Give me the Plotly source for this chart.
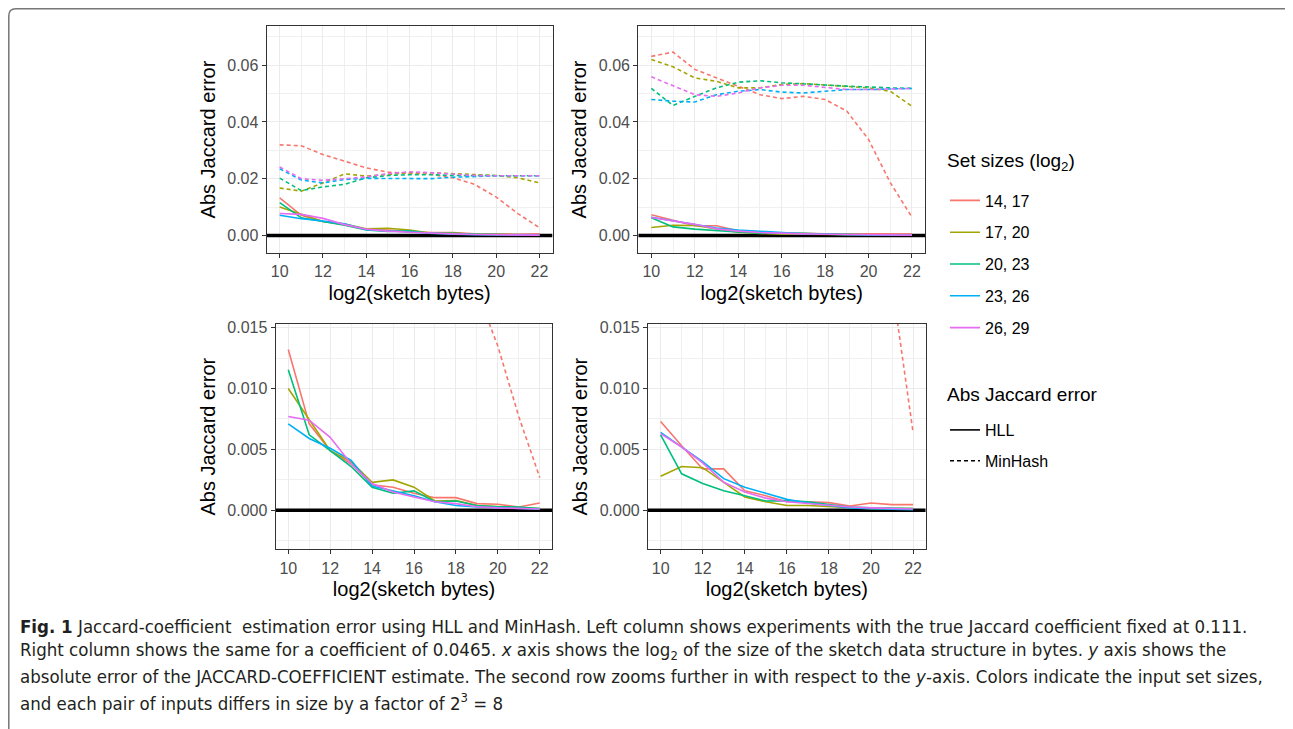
import plotly.graph_objects as go

# the page body adds an 8px margin, so the figure is drawn 8px smaller and
# every reference pixel position is shifted by OFF
OFF = 8
W, H = 1293 - OFF, 729 - OFF

# ---------------- data ----------------
sketch_log2_bytes = list(range(10, 23))
set_sizes = ["14, 17", "17, 20", "20, 23", "23, 26", "26, 29"]
colors = ["#F8766D", "#A3A500", "#00BF7D", "#00B0F6", "#E76BF3"]

# Left column: true Jaccard coefficient 0.111
hll_j111_14_17 = [0.0132, 0.0071, 0.0049, 0.0038, 0.0021, 0.0019, 0.0014, 0.00104, 0.00104, 0.00055, 0.0005, 0.00027, 0.0006]
hll_j111_17_20 = [0.0100, 0.0075, 0.0049, 0.0040, 0.0023, 0.0025, 0.0019, 0.00077, 0.0008, 0.0004, 0.00027, 0.0002, 0.00014]
hll_j111_20_23 = [0.01155, 0.0062, 0.0049, 0.0036, 0.0019, 0.0014, 0.0016, 0.0007, 0.00077, 0.0004, 0.0003, 0.00027, 0.00014]
hll_j111_23_26 = [0.0071, 0.0059, 0.0051, 0.0041, 0.0020, 0.0016, 0.0012, 0.0007, 0.0004, 0.00027, 0.0002, 0.00014, 0.0001]
hll_j111_26_29 = [0.0077, 0.0074, 0.0060, 0.0038, 0.0022, 0.0015, 0.0011, 0.0007, 0.00055, 0.0003, 0.0002, 0.00014, 0.00011]

mh_j111_14_17 = [0.0319, 0.0316, 0.0285, 0.0262, 0.0238, 0.0223, 0.0220, 0.0215, 0.0203, 0.0180, 0.0135, 0.0077, 0.0027]
mh_j111_17_20 = [0.0167, 0.0156, 0.0185, 0.0217, 0.0209, 0.0214, 0.0221, 0.0221, 0.0218, 0.0214, 0.0211, 0.0203, 0.0185]
mh_j111_20_23 = [0.0202, 0.0158, 0.0171, 0.0180, 0.0203, 0.0211, 0.0214, 0.0214, 0.0211, 0.0211, 0.0211, 0.0210, 0.0210]
mh_j111_23_26 = [0.0235, 0.0195, 0.0185, 0.0197, 0.0201, 0.0200, 0.0200, 0.0200, 0.0205, 0.0208, 0.0210, 0.0210, 0.0210]
mh_j111_26_29 = [0.0241, 0.0200, 0.0194, 0.0200, 0.0206, 0.0218, 0.0224, 0.0221, 0.0217, 0.0211, 0.0210, 0.0210, 0.0210]

# Right column: true Jaccard coefficient 0.0465
hll_j0465_14_17 = [0.0073, 0.0053, 0.0034, 0.0034, 0.0016, 0.0012, 0.0007, 0.0007, 0.00063, 0.00036, 0.0006, 0.00047, 0.00047]
hll_j0465_17_20 = [0.0028, 0.0036, 0.0035, 0.0023, 0.0011, 0.0007, 0.0004, 0.0004, 0.00033, 0.0002, 0.00014, 0.00014, 0.00014]
hll_j0465_20_23 = [0.0062, 0.0030, 0.0022, 0.0016, 0.0012, 0.00077, 0.0008, 0.0007, 0.00047, 0.00027, 0.0002, 0.00014, 0.00014]
hll_j0465_23_26 = [0.0064, 0.0052, 0.0040, 0.0026, 0.0019, 0.0014, 0.0009, 0.0006, 0.0004, 0.0002, 0.00014, 0.0001, 0.00005]
hll_j0465_26_29 = [0.0063, 0.0052, 0.0039, 0.0023, 0.0015, 0.0010, 0.0007, 0.00055, 0.0004, 0.00027, 0.0002, 0.00014, 0.00011]

mh_j0465_14_17 = [0.0631, 0.0646, 0.0585, 0.0555, 0.0526, 0.0496, 0.0482, 0.0490, 0.0479, 0.0438, 0.0338, 0.0186, 0.0064]
mh_j0465_17_20 = [0.0620, 0.0594, 0.0555, 0.0543, 0.0520, 0.0520, 0.0532, 0.0535, 0.0530, 0.0526, 0.0520, 0.0508, 0.0455]
mh_j0465_20_23 = [0.0518, 0.0458, 0.0490, 0.0520, 0.0540, 0.0545, 0.0538, 0.0535, 0.0530, 0.0526, 0.0522, 0.0520, 0.0518]
mh_j0465_23_26 = [0.0479, 0.0473, 0.0470, 0.0496, 0.0508, 0.0514, 0.0505, 0.0502, 0.0508, 0.0514, 0.0514, 0.0517, 0.0518]
mh_j0465_26_29 = [0.0559, 0.0528, 0.0496, 0.0490, 0.0502, 0.0520, 0.0529, 0.0529, 0.0522, 0.0514, 0.0514, 0.0516, 0.0518]

hll_left = [hll_j111_14_17, hll_j111_17_20, hll_j111_20_23, hll_j111_23_26, hll_j111_26_29]
mh_left = [mh_j111_14_17, mh_j111_17_20, mh_j111_20_23, mh_j111_23_26, mh_j111_26_29]
hll_right = [hll_j0465_14_17, hll_j0465_17_20, hll_j0465_20_23, hll_j0465_23_26, hll_j0465_26_29]
mh_right = [mh_j0465_14_17, mh_j0465_17_20, mh_j0465_20_23, mh_j0465_23_26, mh_j0465_26_29]

caption_lines = [
    "<b>Fig. 1</b> Jaccard-coefficient  estimation error using HLL and MinHash. Left column shows experiments with the true Jaccard coefficient fixed at 0.111.",
    "Right column shows the same for a coefficient of 0.0465. <i>x</i> axis shows the log<sub>2</sub> of the size of the sketch data structure in bytes. <i>y</i> axis shows the",
    "absolute error of the JACCARD-COEFFICIENT estimate. The second row zooms further in with respect to the <i>y</i>-axis. Colors indicate the input set sizes,",
    "and each pair of inputs differs in size by a factor of 2<sup>3</sup> = 8",
]

X_RANGE = [9.4, 22.6]
Y_RANGE_TOP = [-0.0062, 0.0738]
Y_RANGE_ZOOM = [-0.0032, 0.0153]

# ---------------- layout helpers ----------------
FONT = "Liberation Sans"


def px(xp):
    return (xp - OFF) / W


def py(yp):
    return 1 - (yp - OFF) / H


def xdom(a, b):
    return [px(a), px(b)]


def ydom(top, bottom):
    return [py(bottom), py(top)]


# panels: (axis suffix, x pixel range, y pixel range, y range, y dtick, y fmt)
panels = [
    ("", (266.7, 552.5), (26, 253), Y_RANGE_TOP, 0.02, ".2f"),
    ("2", (638.3, 925.0), (26, 253), Y_RANGE_TOP, 0.02, ".2f"),
    ("3", (275.7, 552.3), (324, 549.3), Y_RANGE_ZOOM, 0.005, ".3f"),
    ("4", (648.0, 925.7), (324, 549.3), Y_RANGE_ZOOM, 0.005, ".3f"),
]

fig = go.Figure()

panel_data = [
    (hll_left, mh_left, ""),
    (hll_right, mh_right, "2"),
    (hll_left, mh_left, "3"),
    (hll_right, mh_right, "4"),
]

for pi, (hll, mh, s) in enumerate(panel_data):
    xa = "x" + s
    ya = "y" + s
    for i in range(5):
        fig.add_trace(go.Scatter(
            x=sketch_log2_bytes, y=hll[i], mode="lines", xaxis=xa, yaxis=ya,
            line=dict(color=colors[i], width=1.6),
            name=set_sizes[i], legendgroup=set_sizes[i], legend="legend",
            showlegend=(pi == 0), hoverinfo="skip",
        ))
    for i in range(5):
        fig.add_trace(go.Scatter(
            x=sketch_log2_bytes, y=mh[i], mode="lines", xaxis=xa, yaxis=ya,
            line=dict(color=colors[i], width=1.6, dash="4px,3px"),
            name=set_sizes[i], legendgroup=set_sizes[i], showlegend=False,
            hoverinfo="skip",
        ))

# linetype legend entries
fig.add_trace(go.Scatter(x=[None], y=[None], mode="lines", name="HLL",
                         line=dict(color="black", width=1.6), legend="legend2",
                         legendgroup="HLL"))
fig.add_trace(go.Scatter(x=[None], y=[None], mode="lines", name="MinHash",
                         line=dict(color="black", width=1.6, dash="4px,3px"),
                         legend="legend2", legendgroup="MinHash"))

axis_common = dict(
    showline=True, linecolor="#333333", linewidth=1.2, mirror=True,
    ticks="outside", ticklen=4, tickcolor="#333333", tickwidth=1,
    showgrid=True, gridcolor="#EBEBEB", gridwidth=1.1, zeroline=False,
    tickfont=dict(family=FONT, size=16, color="#4D4D4D"),
)

layout_axes = {}
for suffix, (xl, xr), (yt, yb), yr, ydt, yfmt in panels:
    layout_axes["xaxis" + suffix] = dict(
        axis_common, domain=xdom(xl, xr), anchor="y" + suffix,
        range=X_RANGE, tick0=10, dtick=2,
        minor=dict(dtick=1, tick0=10, showgrid=True, gridcolor="#F0F0F0", gridwidth=0.6, ticks=""),
        title=dict(text="log2(sketch bytes)", font=dict(family=FONT, size=20, color="black"), standoff=6),
    )
    layout_axes["yaxis" + suffix] = dict(
        axis_common, domain=ydom(yt, yb), anchor="x" + suffix,
        range=yr, tick0=0, dtick=ydt, tickformat=yfmt,
        minor=dict(dtick=ydt / 2, tick0=0, showgrid=True, gridcolor="#F0F0F0", gridwidth=0.6, ticks=""),
        title=dict(text="Abs Jaccard error", font=dict(family=FONT, size=20, color="black"), standoff=6),
    )

shapes = []
for suffix, *_ in panels:
    # horizontal reference line at zero error, spanning the panel
    shapes.append(dict(type="line", xref="x" + suffix, yref="y" + suffix,
                       x0=X_RANGE[0], x1=X_RANGE[1], y0=0, y1=0,
                       line=dict(color="black", width=3.5), layer="between"))

# figure frame with rounded corner (reference: x=8.5, y=8.5)
fx, fy, r = px(8.8), py(8.8), 7
shapes.append(dict(
    type="path", xref="paper", yref="paper",
    path=(f"M 1.01,{fy} L {fx + r / W},{fy} "
          f"Q {fx},{fy} {fx},{fy - r / H} L {fx},-0.01"),
    line=dict(color="#777777", width=1.5),
))

annotations = []
for k, line in enumerate(caption_lines):
    annotations.append(dict(
        text=line, xref="paper", yref="paper", x=px(18), y=py(626 + 25.3 * k),
        xanchor="left", yanchor="middle", showarrow=False, align="left",
        font=dict(family="Liberation Sans Narrow, DejaVu Sans Condensed", size=18.5, color="#231F20"),
    ))

# legend titles
annotations.append(dict(text="Set sizes (log<sub>2</sub>)", xref="paper", yref="paper",
                        x=px(945), y=py(162), xanchor="left", yanchor="middle", showarrow=False,
                        font=dict(family=FONT, size=19, color="black")))
annotations.append(dict(text="Abs Jaccard error", xref="paper", yref="paper",
                        x=px(945), y=py(394), xanchor="left", yanchor="middle", showarrow=False,
                        font=dict(family=FONT, size=19, color="black")))

fig.update_layout(
    width=W, height=H,
    margin=dict(l=0, r=0, t=0, b=0, autoexpand=False),
    paper_bgcolor="white", plot_bgcolor="white",
    font=dict(family=FONT, color="black"),
    shapes=shapes, annotations=annotations,
    legend=dict(
        x=px(945), y=py(183.5), xanchor="left", yanchor="top",
        font=dict(family=FONT, size=16), tracegroupgap=8, bgcolor="rgba(0,0,0,0)",
        itemwidth=30,
    ),
    legend2=dict(
        x=px(945), y=py(413), xanchor="left", yanchor="top",
        font=dict(family=FONT, size=16), tracegroupgap=7, bgcolor="rgba(0,0,0,0)",
        itemwidth=30,
    ),
    **layout_axes,
)

fig.write_html("out.html")
